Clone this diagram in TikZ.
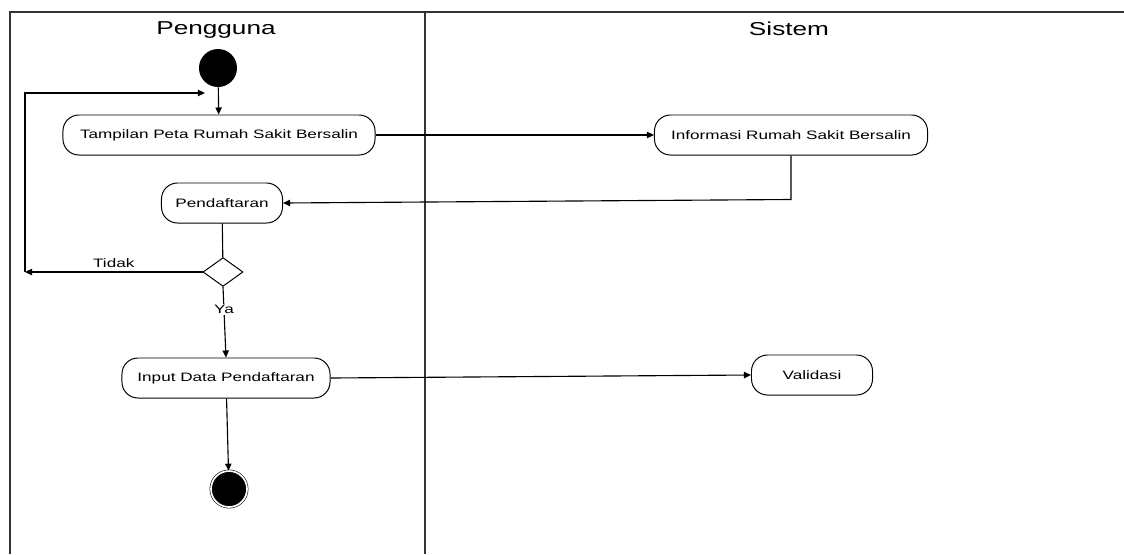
\documentclass[tikz,border=0pt]{standalone}
\usepackage{fontspec}
\setmainfont{Liberation Sans}[FakeStretch=1.4]
\usetikzlibrary{arrows.meta, shapes.geometric, calc}
\newcommand{\lUser}{Pengguna}
\newcommand{\lSystem}{Sistem}

\begin{document}
\begin{tikzpicture} [
        x=0.025cm, y=-0.025cm,
        lane/.style={draw=black!80, line width=1.2pt},
        lane title/.style={font=\fontsize{13.3}{15}\selectfont},
        act/.style={draw, rounded corners=0.4cm, minimum height=1cm, inner sep=2pt, line width=0.7pt, font=\fontsize{8.7}{10}\selectfont},
        decision/.style={draw, diamond, minimum width=1cm, minimum height=0.72cm, inner sep=0pt, line width=0.7pt},
        start/.style={circle, fill=black, minimum size=0.95cm, inner sep=0pt},
        stop/.style={circle, draw, double=white, double distance=1.2pt, fill=black, minimum size=0.9cm, inner sep=0pt},
        line/.style={draw, line width=0.8pt},
        flow/.style={line, -{Triangle[length=5pt, width=4.5pt]}},
        guard/.style={font=\fontsize{8.7}{10}\selectfont, inner sep=1pt}
    ]

    \useasboundingbox (0,0) rectangle (1124,554);

    % swimlanes
    \draw[lane] (10,554) -- (10,12) -- (1124,12);
    \draw[lane] (425,12) -- (425,554);
    \node[lane title] (user) at (216,30) {\lUser};
    \node[lane title] (system) at (789,29) {\lSystem};

    % activities
    \node[start] (start) at (218,68) {};
    \node[act, minimum width=7.8cm] (map) at (219,135) {Tampilan Peta Rumah Sakit Bersalin};
    \node[act, minimum width=6.825cm] (info) at (791,135) {Informasi Rumah Sakit Bersalin};
    \node[act, minimum width=3.025cm] (register) at (222,203) {Pendaftaran};
    \node[decision] (choice) at (223,272) {};
    \node[act, minimum width=5.2cm] (input) at (226,378) {Input Data Pendaftaran};
    \node[act, minimum width=3.025cm] (valid) at (812,375) {Validasi};
    \node[stop] (stop) at (229,489) {};

    \coordinate (back) at (25,272);
    \coordinate (back top) at (205,93);

    % flows
    \draw[flow] (start) -- (map);
    \draw[flow] (map) -- (info);
    \draw[flow] (info.south) -- ++(0,44) -- (register.east);
    \draw[line] (register) -- (choice);
    \draw[flow] (choice.west) -- node[guard, above=2pt] {Tidak} (back);
    \draw[flow] (back) |- (back top);
    \draw[flow] (choice.south) -- node[guard, fill=white, pos=0.32] {Ya} (input.north);
    \draw[flow] (input.east) -- (valid.west);
    \draw[flow] (input) -- (stop);

\end{tikzpicture}
\end{document}
